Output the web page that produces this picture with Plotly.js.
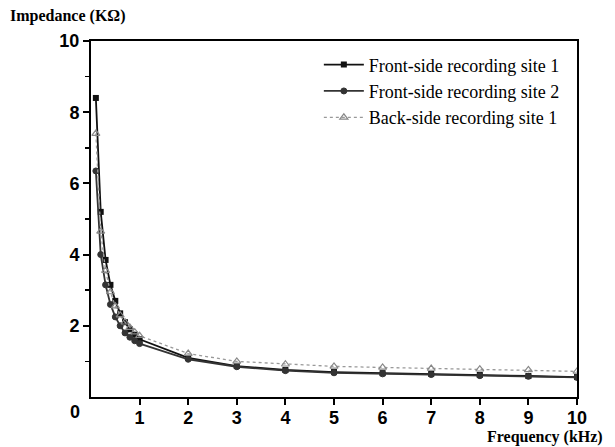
<!DOCTYPE html>
<html>
<head>
<meta charset="utf-8">
<script src="https://cdn.plot.ly/plotly-3.0.1.min.js"></script>
<style>html,body{margin:0;padding:0;background:#fff;}#chart{width:615px;height:447px;}</style>
</head>
<body>
<div id="chart"></div>
<script>
const frequency = [0.1, 0.2, 0.3, 0.4, 0.5, 0.6, 0.7, 0.8, 0.9, 1, 2, 3, 4, 5, 6, 7, 8, 9, 10];
const frontSite1 = [8.4, 5.2, 3.85, 3.15, 2.7, 2.35, 2.1, 1.9, 1.75, 1.62, 1.1, 0.87, 0.76, 0.7, 0.67, 0.65, 0.62, 0.59, 0.56];
const frontSite2 = [6.35, 4.0, 3.15, 2.6, 2.25, 2.0, 1.8, 1.68, 1.58, 1.5, 1.06, 0.85, 0.74, 0.68, 0.65, 0.63, 0.6, 0.58, 0.55];
const backSite1 = [7.4, 4.65, 3.55, 2.95, 2.55, 2.3, 2.1, 1.95, 1.82, 1.72, 1.22, 1.0, 0.92, 0.86, 0.83, 0.8, 0.78, 0.76, 0.72];
const seriesNames = ['Front-side recording site 1', 'Front-side recording site 2', 'Back-side recording site 1'];
const xTicks = [1, 2, 3, 4, 5, 6, 7, 8, 9, 10];
const yTicks = [2, 4, 6, 8, 10];

const traces = [
  {x: frequency, y: frontSite1, name: seriesNames[0], mode: 'lines+markers',
   line: {color: '#111', width: 1.8}, marker: {symbol: 'square', size: 6, color: '#111'}},
  {x: frequency, y: frontSite2, name: seriesNames[1], mode: 'lines+markers',
   line: {color: '#333', width: 1.8}, marker: {symbol: 'circle', size: 6, color: '#333', line: {color: '#333', width: 1}}},
  {x: frequency, y: backSite1, name: seriesNames[2], mode: 'lines+markers',
   line: {color: '#999', width: 1.3, dash: 'dot'}, marker: {symbol: 'triangle-up-open', size: 7, color: '#888', line: {width: 1.2}}}
];

const tickFont = {family: 'Liberation Sans, Arial, sans-serif', size: 18, color: '#000', weight: 'bold'};
const titleFont = {family: 'Liberation Serif, Times New Roman, serif', size: 16, color: '#000', weight: 'bold'};
const layout = {
  width: 615, height: 447,
  margin: {l: 91, r: 38, t: 41, b: 50},
  paper_bgcolor: '#fff', plot_bgcolor: '#fff',
  showlegend: true,
  legend: {x: 0.975, y: 0.985, xanchor: 'right', yanchor: 'top', bgcolor: 'rgba(0,0,0,0)',
           font: {family: 'Liberation Serif, Times New Roman, serif', size: 18, color: '#000'},
           tracegroupgap: 0, itemwidth: 40},
  xaxis: {range: [0, 10], tickvals: xTicks, ticktext: xTicks.map(String), showgrid: false, zeroline: false,
          showline: true, linecolor: '#000', linewidth: 2, mirror: true, ticklabelstandoff: -3,
          ticks: 'outside', ticklen: 6, tickwidth: 2, tickcolor: '#000', tickfont: tickFont},
  yaxis: {range: [0, 10], tickvals: yTicks, ticktext: yTicks.map(String), showgrid: false, zeroline: false,
          showline: true, linecolor: '#000', linewidth: 2, mirror: true,
          ticks: 'outside', ticklen: 6, tickwidth: 2, tickcolor: '#000', tickfont: tickFont,
          minor: {tickvals: [1, 3, 5, 7, 9], ticks: 'outside', ticklen: 4, tickwidth: 1.5, tickcolor: '#000'}},
  annotations: [
    {text: 'Impedance (KΩ)', xref: 'paper', yref: 'paper', x: -0.17, y: 1.0, xanchor: 'left', yanchor: 'bottom',
     yshift: 14, showarrow: false, font: titleFont},
    {text: 'Frequency (kHz)', xref: 'paper', yref: 'paper', x: 1.0, y: 0, xanchor: 'center', yanchor: 'bottom',
     xshift: -32, yshift: -51, showarrow: false, font: titleFont},
    {text: '0', xref: 'x', yref: 'y', x: 0, y: 0, xanchor: 'center', yanchor: 'middle',
     xshift: -16, yshift: -15, showarrow: false, font: tickFont}
  ]
};
Plotly.newPlot('chart', traces, layout, {displayModeBar: false, staticPlot: true});
</script>
</body>
</html>
